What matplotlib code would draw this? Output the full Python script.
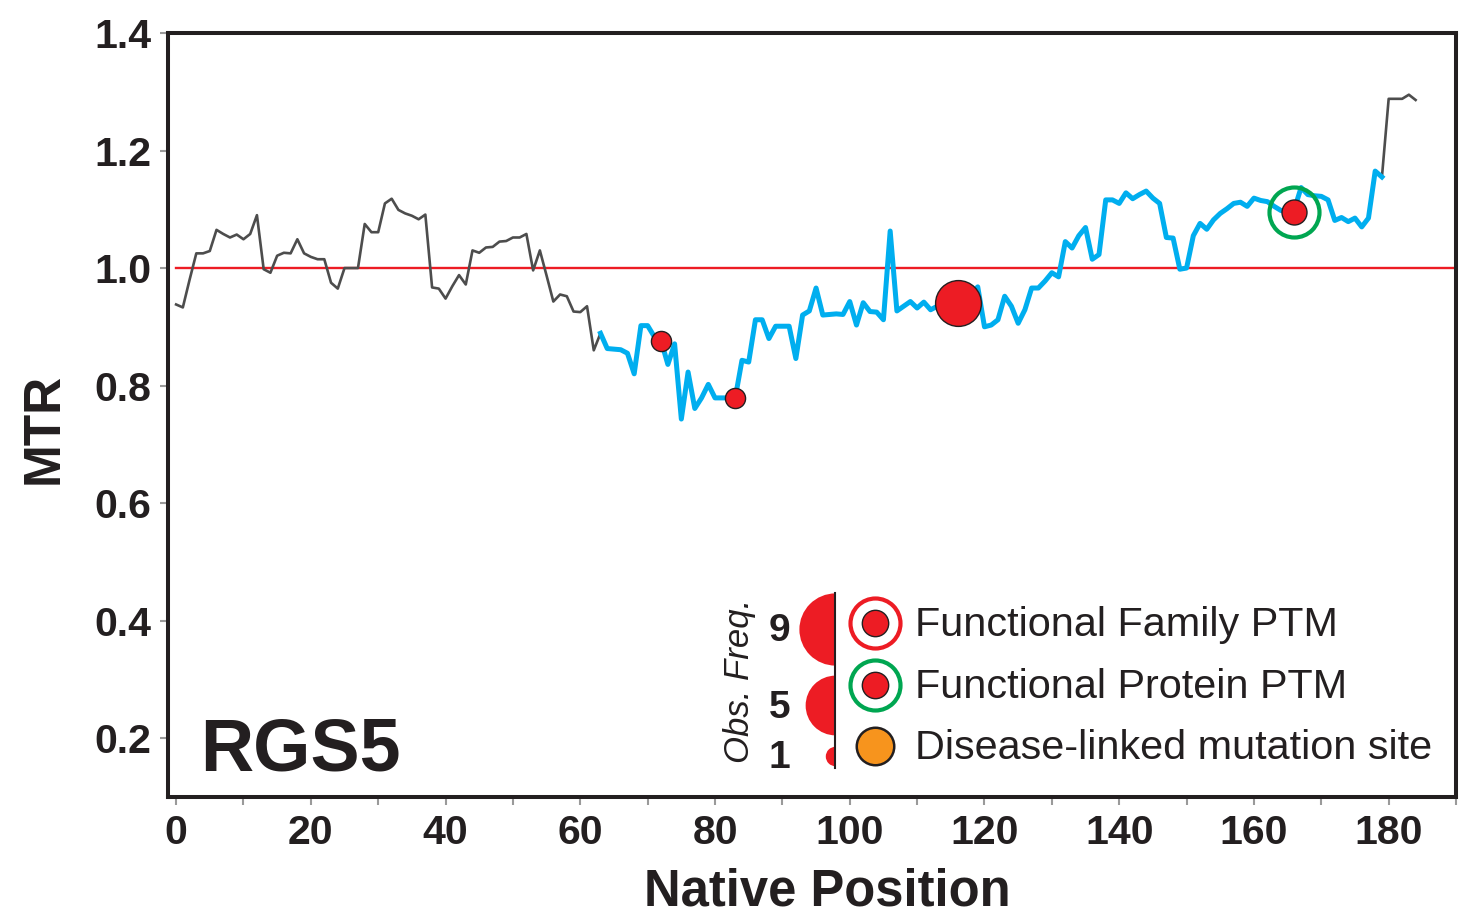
import matplotlib
matplotlib.use('Agg')
import matplotlib.pyplot as plt
import numpy as np

plt.rcParams['font.family'] = ['Liberation Sans', 'DejaVu Sans']

# MTR score per native position (0..184)
mtr = [0.938, 0.933, 0.980, 1.025, 1.025, 1.029, 1.065, 1.058, 1.052, 1.057,
       1.049, 1.058, 1.090, 0.998, 0.992, 1.021, 1.026, 1.025, 1.049, 1.025,
       1.019, 1.015, 1.015, 0.975, 0.965, 1.000, 1.000, 1.000, 1.075, 1.061,
       1.061, 1.110, 1.118, 1.099, 1.093, 1.089, 1.083, 1.091, 0.967, 0.965,
       0.948, 0.969, 0.988, 0.972, 1.030, 1.026, 1.035, 1.036, 1.045, 1.046,
       1.052, 1.052, 1.058, 0.996, 1.030, 0.987, 0.943, 0.955, 0.952, 0.926,
       0.925, 0.935, 0.860, 0.889, 0.863, 0.862, 0.861, 0.855, 0.820, 0.902,
       0.902, 0.883, 0.876, 0.836, 0.871, 0.743, 0.823, 0.761, 0.779, 0.802,
       0.779, 0.779, 0.779, 0.779, 0.843, 0.840, 0.912, 0.912, 0.880, 0.901,
       0.901, 0.901, 0.846, 0.920, 0.927, 0.966, 0.920, 0.921, 0.922, 0.921,
       0.943, 0.903, 0.941, 0.926, 0.925, 0.912, 1.063, 0.927, 0.935, 0.943,
       0.932, 0.942, 0.929, 0.935, 0.940, 0.945, 0.941, 0.945, 0.955, 0.968,
       0.900, 0.903, 0.912, 0.952, 0.935, 0.906, 0.929, 0.966, 0.966, 0.978,
       0.992, 0.985, 1.045, 1.034, 1.055, 1.069, 1.015, 1.023, 1.116, 1.116,
       1.110, 1.128, 1.118, 1.125, 1.131, 1.119, 1.110, 1.052, 1.051, 0.998,
       1.000, 1.055, 1.076, 1.066, 1.082, 1.093, 1.101, 1.110, 1.112, 1.105,
       1.119, 1.115, 1.113, 1.105, 1.098, 1.096, 1.100, 1.137, 1.125, 1.123,
       1.122, 1.116, 1.081, 1.086, 1.079, 1.085, 1.070, 1.085, 1.165, 1.155,
       1.288, 1.288, 1.288, 1.295, 1.286]
pos = np.arange(len(mtr))
mtr = np.array(mtr)

# region highlighted in blue
blue_start = 63
blue_end = 179

# PTM sites: position, MTR at site, marker size (pt)
ptm_pos = [72, 83, 116, 166]
ptm_val = [0.876, 0.779, 0.941, 1.096]
ptm_size = [14.5, 14.5, 33, 18]
ptm_protein = [166]  # green ring

red = '#ed1c24'
blue = '#00aeef'
grey = '#4d4d4d'
green = '#00a651'
orange = '#f7941d'
dark = '#231f20'

fig = plt.figure(figsize=(14.61, 9.17), dpi=100)
ax = fig.add_axes([0.115, 0.131, 0.8816, 0.833])

ax.plot([0, 191], [1.0, 1.0], color=red, lw=1.7, zorder=1)

ax.plot(pos[:blue_start+1], mtr[:blue_start+1], color=grey, lw=1.9, zorder=2)
ax.plot(pos[blue_end:], mtr[blue_end:], color=grey, lw=1.9, zorder=2)
ax.plot(pos[blue_start:blue_end+1], mtr[blue_start:blue_end+1], color=blue, lw=3.6, zorder=3)

for p, v, s in zip(ptm_pos, ptm_val, ptm_size):
    if p in ptm_protein:
        ax.plot(p, v, 'o', ms=36, mfc='none', mec=green, mew=3.0, zorder=4)
    ax.plot(p, v, 'o', ms=s, mfc=red, mec=dark, mew=1.0, zorder=5)

ax.set_xlim(-1.2, 189.5)
ax.set_ylim(0.1, 1.4)
ax.set_xticks(np.arange(0, 181, 20))
ax.set_xticks(np.arange(10, 191, 20), minor=True)
ax.set_yticks([0.2, 0.4, 0.6, 0.8, 1.0, 1.2, 1.4])
ax.set_yticklabels(['0.2', '0.4', '0.6', '0.8', '1.0', '1.2', '1.4'])
ax.tick_params(axis='both', which='both', colors='#9a9a9a', length=6, width=1.5,
               labelcolor=dark, labelsize=29.5)
for lab in ax.get_xticklabels() + ax.get_yticklabels():
    lab.set_fontweight('bold')
ax.tick_params(axis='x', pad=6)
ax.tick_params(axis='y', pad=6)

for sp in ax.spines.values():
    sp.set_linewidth(2.9)
    sp.set_color(dark)

ax.set_xlabel('Native Position', fontsize=36.5, fontweight='bold', color=dark)
ax.xaxis.set_label_coords(0.512, -0.092)
ax.set_ylabel('MTR', fontsize=37, fontweight='bold', color=dark)
ax.yaxis.set_label_coords(-0.077, 0.482)

ax.text(0.025, 0.035, 'RGS5', transform=ax.transAxes, fontsize=53,
        fontweight='bold', color=dark, va='baseline', ha='left')

# observed frequency key
freq_lab = ['9', '5', '1']
freq_y = [0.220, 0.120, 0.054]
freq_ms = [52, 43, 14]
tr = ax.transAxes
ax.plot([0.518, 0.518], [0.038, 0.267], color=dark, lw=1.5, transform=tr, zorder=6)
for lab, y, ms in zip(freq_lab, freq_y, freq_ms):
    ax.plot(0.518, y, marker='o', ms=ms, fillstyle='left', mfc=red,
            mfcalt='none', mew=0, transform=tr, zorder=5, clip_on=False)
    ax.text(0.475, y - 0.003, lab, transform=tr, fontsize=28, fontweight='bold',
            color=dark, ha='center', va='center')
ax.text(0.444, 0.152, 'Obs. Freq.', transform=tr, fontsize=25, style='italic',
        color=dark, rotation=90, ha='center', va='center')

# marker legend
leg_lab = ['Functional Family PTM', 'Functional Protein PTM', 'Disease-linked mutation site']
leg_y = [0.228, 0.147, 0.067]
ax.plot(0.549, leg_y[0], 'o', ms=36, mfc='white', mec=red, mew=3.0, transform=tr)
ax.plot(0.549, leg_y[0], 'o', ms=19, mfc=red, mec=dark, mew=1.0, transform=tr)
ax.plot(0.549, leg_y[1], 'o', ms=36, mfc='white', mec=green, mew=3.0, transform=tr)
ax.plot(0.549, leg_y[1], 'o', ms=19, mfc=red, mec=dark, mew=1.0, transform=tr)
ax.plot(0.549, leg_y[2], 'o', ms=27, mfc=orange, mec=dark, mew=1.8, transform=tr)
for lab, y in zip(leg_lab, leg_y):
    ax.text(0.580, y - 0.003, lab, transform=tr, fontsize=29.8, color=dark,
            ha='left', va='center')

plt.savefig('out.png', dpi=100)
